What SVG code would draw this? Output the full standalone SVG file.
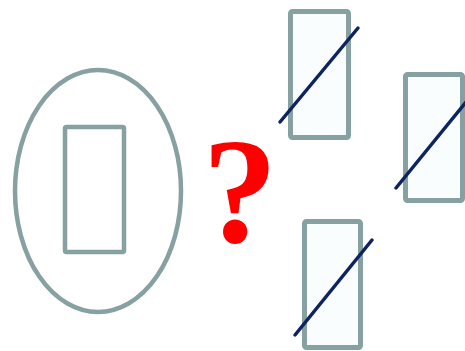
<svg xmlns="http://www.w3.org/2000/svg" width="465" height="351" viewBox="0 0 465 351">
<style>
.frame{fill:#fafdfd;stroke:#87a0a2;stroke-width:5}
.slash{stroke:#0d2461;stroke-width:3.5;stroke-linecap:round}
.q{font-family:"Liberation Serif",serif;font-weight:bold;fill:#ff0000}
</style>
<rect width="465" height="351" fill="#ffffff"/>
<g id="source">
<ellipse cx="98" cy="191" rx="83" ry="121" fill="none" stroke="#87a0a2" stroke-width="4.5"/>
<rect x="65" y="127" width="59" height="125" rx="1.5" fill="none" stroke="#87a0a2" stroke-width="4.5"/>
</g>
<g id="question">
<text class="q" x="240" y="242" font-size="150" text-anchor="middle">?</text>
</g>
<g id="option1">
<rect class="frame" x="290.5" y="11.5" width="58" height="126" rx="2"/>
</g>
<g id="option2">
<rect class="frame" x="405.5" y="74.5" width="57" height="126" rx="2"/>
</g>
<g id="option3">
<rect class="frame" x="304.5" y="221.5" width="56" height="126" rx="2"/>
</g>
<g id="connectors">
<line class="slash" x1="280" y1="122" x2="358" y2="28"/>
<line class="slash" x1="396" y1="188" x2="466" y2="102"/>
<line class="slash" x1="295" y1="335" x2="372" y2="240"/>
</g>
</svg>
